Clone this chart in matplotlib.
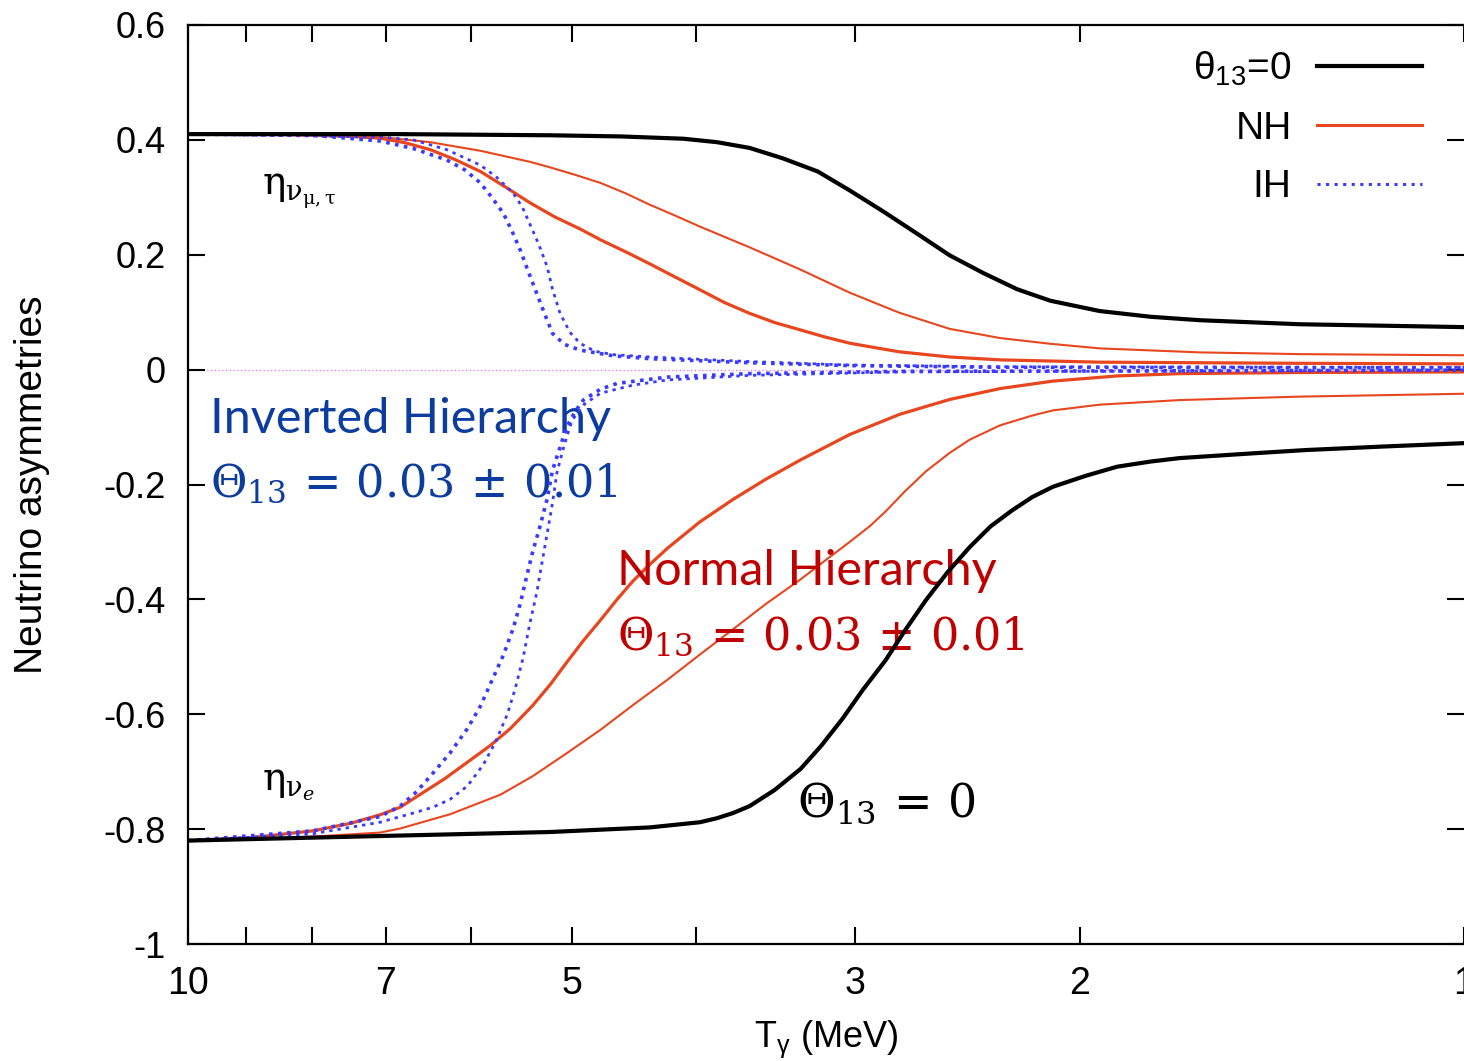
import matplotlib
matplotlib.use("Agg")
import matplotlib.pyplot as plt
from matplotlib.ticker import FixedLocator, NullFormatter

plt.rcParams['font.family'] = ['Liberation Sans', 'DejaVu Sans']
plt.rcParams['mathtext.fontset'] = 'custom'
plt.rcParams['mathtext.rm'] = 'Liberation Sans'
plt.rcParams['mathtext.it'] = 'Liberation Sans:italic'

# photon temperature T (MeV) and asymmetries for each run
T_zero_mt = [10, 8, 6.82, 5.20, 4.58, 4.09, 3.85, 3.63, 3.42, 3.21, 3.03, 2.85, 2.68, 2.53, 2.38,
             2.24, 2.11, 1.93, 1.76, 1.61, 1.345, 1.0]
eta_zero_mt = [0.410, 0.410, 0.410, 0.408, 0.406, 0.402, 0.396, 0.386, 0.368, 0.345, 0.312, 0.275,
               0.236, 0.199, 0.168, 0.140, 0.120, 0.102, 0.092, 0.086, 0.079, 0.074]

T_zero_e = [10, 7.07, 5.20, 4.345, 3.97, 3.85, 3.74, 3.63, 3.47, 3.31, 3.19, 3.07, 2.96, 2.84, 2.74,
            2.64, 2.54, 2.44, 2.35, 2.26, 2.18, 2.10, 1.98, 1.87, 1.76, 1.67, 1.47, 1.33, 1.16, 1.0]
eta_zero_e = [-0.820, -0.812, -0.805, -0.797, -0.788, -0.781, -0.772, -0.760, -0.732, -0.695, -0.655,
              -0.608, -0.558, -0.506, -0.453, -0.401, -0.353, -0.309, -0.273, -0.245, -0.222,
              -0.204, -0.185, -0.169, -0.160, -0.154, -0.146, -0.140, -0.134, -0.128]

T_nh_mt_a = [10, 8.94, 7.98, 7.46, 7.07, 6.76, 6.46, 6.18, 5.90, 5.64, 5.40, 5.16, 4.93, 4.75, 4.50,
             4.345, 4.15, 3.97, 3.80, 3.63, 3.47, 3.31, 3.17, 3.03, 2.89, 2.77, 2.53, 2.31, 1.93,
             1.345, 1.0]
eta_nh_mt_a = [0.410, 0.410, 0.408, 0.406, 0.403, 0.395, 0.383, 0.366, 0.345, 0.318, 0.291, 0.266,
               0.245, 0.226, 0.201, 0.184, 0.161, 0.139, 0.117, 0.098, 0.082, 0.069, 0.057, 0.046,
               0.038, 0.031, 0.022, 0.017, 0.013, 0.011, 0.010]

T_nh_mt_b = [10, 7.98, 7.07, 6.46, 5.90, 5.40, 5.20, 4.97, 4.75, 4.54, 4.345, 4.15, 3.97, 3.63, 3.31,
             3.03, 2.77, 2.53, 2.31, 2.11, 1.93, 1.61, 1.345, 1.0]
eta_nh_mt_b = [0.410, 0.409, 0.405, 0.396, 0.381, 0.362, 0.352, 0.339, 0.325, 0.307, 0.287, 0.268,
               0.249, 0.213, 0.174, 0.134, 0.099, 0.071, 0.055, 0.045, 0.037, 0.030, 0.027, 0.025]

T_nh_e_a = [10, 8.94, 7.98, 7.46, 7.07, 6.82, 6.29, 5.80, 5.59, 5.37, 5.20, 5.05, 4.90, 4.75, 4.61,
            4.48, 4.345, 4.21, 3.97, 3.74, 3.52, 3.31, 3.03, 2.77, 2.53, 2.31, 2.10, 1.87, 1.67,
            1.345, 1.0]
eta_nh_e_a = [-0.820, -0.815, -0.803, -0.790, -0.775, -0.762, -0.712, -0.655, -0.625, -0.585, -0.548,
              -0.510, -0.472, -0.436, -0.400, -0.368, -0.339, -0.311, -0.265, -0.226, -0.190,
              -0.157, -0.113, -0.078, -0.052, -0.033, -0.020, -0.011, -0.007, -0.005, -0.004]

T_nh_e_b = [10, 8.94, 7.98, 7.07, 6.82, 6.23, 5.69, 5.37, 5.05, 4.75, 4.48, 4.21, 3.97, 3.74, 3.52,
            3.31, 3.17, 3.03, 2.92, 2.84, 2.74, 2.64, 2.53, 2.44, 2.31, 2.18, 2.10, 1.93, 1.67,
            1.345, 1.0]
eta_nh_e_b = [-0.820, -0.818, -0.813, -0.806, -0.799, -0.774, -0.740, -0.708, -0.668, -0.627, -0.584,
              -0.540, -0.496, -0.452, -0.407, -0.365, -0.333, -0.300, -0.272, -0.247, -0.211,
              -0.177, -0.145, -0.122, -0.097, -0.080, -0.071, -0.061, -0.053, -0.047, -0.042]

T_ih_mt_a = [10, 7.98, 7.07, 6.66, 6.27, 6.07, 5.90, 5.78, 5.66, 5.57, 5.49, 5.41, 5.33, 5.25, 5.18,
             5.07, 4.93, 4.64, 4.345, 3.63, 3.03, 2.31, 1.0]
eta_ih_mt_a = [0.410, 0.408, 0.398, 0.385, 0.365, 0.348, 0.325, 0.300, 0.272, 0.240, 0.208, 0.170,
               0.133, 0.095, 0.063, 0.044, 0.034, 0.024, 0.019, 0.012, 0.007, 0.004, 0.003]

T_ih_mt_b = [10, 7.07, 6.66, 6.27, 5.90, 5.73, 5.56, 5.47, 5.40, 5.31, 5.23, 5.18, 5.11, 5.02, 4.93,
             4.80, 4.64, 4.345, 3.63, 3.03, 2.31, 1.0]
eta_ih_mt_b = [0.410, 0.405, 0.400, 0.383, 0.356, 0.335, 0.307, 0.283, 0.255, 0.218, 0.179, 0.140,
               0.098, 0.065, 0.046, 0.032, 0.026, 0.022, 0.014, 0.008, 0.005, 0.004]

T_ih_e_a = [10, 7.98, 7.07, 6.82, 6.62, 6.43, 6.23, 6.04, 5.90, 5.77, 5.66, 5.56, 5.49, 5.43, 5.37,
            5.30, 5.23, 5.18, 5.11, 5.05, 4.97, 4.90, 4.75, 4.61, 4.21, 3.63, 2.77, 1.0]
eta_ih_e_a = [-0.820, -0.803, -0.778, -0.760, -0.735, -0.703, -0.667, -0.625, -0.586, -0.538, -0.497,
              -0.450, -0.407, -0.362, -0.318, -0.274, -0.225, -0.175, -0.135, -0.100, -0.072,
              -0.053, -0.034, -0.024, -0.013, -0.007, -0.003, -0.001]

T_ih_e_b = [10, 7.98, 7.07, 6.66, 6.43, 6.23, 6.04, 5.87, 5.74, 5.62, 5.54, 5.46, 5.40, 5.33, 5.28,
            5.23, 5.18, 5.14, 5.07, 5.00, 4.89, 4.75, 4.48, 4.21, 3.63, 2.77, 1.0]
eta_ih_e_b = [-0.820, -0.808, -0.788, -0.772, -0.762, -0.748, -0.725, -0.688, -0.648, -0.600, -0.555,
              -0.500, -0.445, -0.389, -0.337, -0.285, -0.232, -0.180, -0.130, -0.088, -0.060,
              -0.041, -0.027, -0.018, -0.010, -0.004, -0.001]

x_major = [10, 7, 5, 3, 2, 1]
x_minor = [9, 8, 6, 4]
y_ticks = [-1, -0.8, -0.6, -0.4, -0.2, 0, 0.2, 0.4, 0.6]
y_labels = ['-1', '-0.8', '-0.6', '-0.4', '-0.2', '0', '0.2', '0.4', '0.6']

black = 'black'
red = '#e8461e'
blue = '#3a3aff'
ih_color = '#0b3c9e'
nh_color = '#c00000'

fig = plt.figure(figsize=(14.64, 10.61), dpi=100)
ax = fig.add_axes([188 / 1464, 1 - 944 / 1061, 1276 / 1464, 919 / 1061])

ax.axhline(0, color='#ff66ff', lw=0.9, ls=(0, (1, 2)), zorder=1)

ax.plot(T_nh_mt_b, eta_nh_mt_b, color=red, lw=1.5, zorder=3)
ax.plot(T_nh_e_b, eta_nh_e_b, color=red, lw=1.5, zorder=3)
ax.plot(T_nh_mt_a, eta_nh_mt_a, color=red, lw=2.3, zorder=3)
ax.plot(T_nh_e_a, eta_nh_e_a, color=red, lw=2.3, zorder=3)
ax.plot(T_ih_mt_b, eta_ih_mt_b, color=blue, lw=2.0, ls=(0, (1.2, 1.8)), zorder=4)
ax.plot(T_ih_e_b, eta_ih_e_b, color=blue, lw=2.0, ls=(0, (1.2, 1.8)), zorder=4)
ax.plot(T_ih_mt_a, eta_ih_mt_a, color=blue, lw=2.6, ls=(0, (1, 1.5)), zorder=4)
ax.plot(T_ih_e_a, eta_ih_e_a, color=blue, lw=2.6, ls=(0, (1, 1.5)), zorder=4)
ax.plot(T_zero_mt, eta_zero_mt, color=black, lw=3.0, zorder=5)
ax.plot(T_zero_e, eta_zero_e, color=black, lw=3.0, zorder=5)

ax.set_xscale('log')
ax.set_xlim(10, 1)
ax.set_ylim(-1, 0.6)
ax.xaxis.set_major_locator(FixedLocator(x_major))
ax.xaxis.set_minor_locator(FixedLocator(x_minor))
ax.xaxis.set_minor_formatter(NullFormatter())
ax.set_xticklabels([str(v) for v in x_major])
ax.set_yticks(y_ticks)
ax.set_yticklabels(y_labels)
ax.tick_params(which='both', direction='in', length=12, width=1.5, top=True, right=True)
ax.tick_params(axis='y', labelsize=26, pad=16)
ax.tick_params(axis='x', labelsize=27, pad=16)
ax.spines['right'].set_visible(False)
for side in ['left', 'bottom', 'top']:
    ax.spines[side].set_linewidth(1.6)

ax.set_xlabel(r'T$_\mathrm{\gamma}$ (MeV)', fontsize=26)
ax.xaxis.set_label_coords(0.5, -0.081)
ax.set_ylabel('Neutrino asymmetries', fontsize=28)
ax.yaxis.set_label_coords(-0.108, 0.5)

# legend entries
h0, = ax.plot([], [], color=black, lw=3.0)
h1, = ax.plot([], [], color=red, lw=2.2)
h2, = ax.plot([], [], color=blue, lw=2.2, ls=(0, (1, 1.8)))
ax.legend([h0, h1, h2], [r'θ$_{13}$=0', 'NH', 'IH'], loc='upper right',
          bbox_to_anchor=(0.967, 0.973), frameon=False, markerfirst=False,
          handlelength=2.7, handletextpad=0.65, labelspacing=0.58,
          fontsize=28, borderpad=0, borderaxespad=0)

# curve labels
ax.text(8.75, 0.304, r'$\mathrm{\eta}_{\mathrm{\nu}_{\mathrm{\mu,\tau}}}$', fontsize=28,
        math_fontfamily='dejavuserif')
ax.text(8.75, -0.732, r'$\mathrm{\eta}_{\mathrm{\nu}_{e}}$', fontsize=28,
        math_fontfamily='dejavuserif')

ax.text(9.61, -0.110, 'Inverted Hierarchy', fontsize=35, color=ih_color, family='Lato')
ax.text(9.61, -0.222, r'$\Theta_{13}\,=\,0.03\,\pm\,0.01$', fontsize=32, color=ih_color,
        math_fontfamily='dejavuserif')
ax.text(4.61, -0.375, 'Normal Hierarchy', fontsize=35, color=nh_color, family='Lato')
ax.text(4.61, -0.488, r'$\Theta_{13}\,=\,0.03\,\pm\,0.01$', fontsize=32, color=nh_color,
        math_fontfamily='dejavuserif')
ax.text(3.33, -0.779, r'$\Theta_{13}\,=\,0$', fontsize=33, color='black',
        math_fontfamily='dejavuserif')

fig.savefig('out.png', dpi=100)
